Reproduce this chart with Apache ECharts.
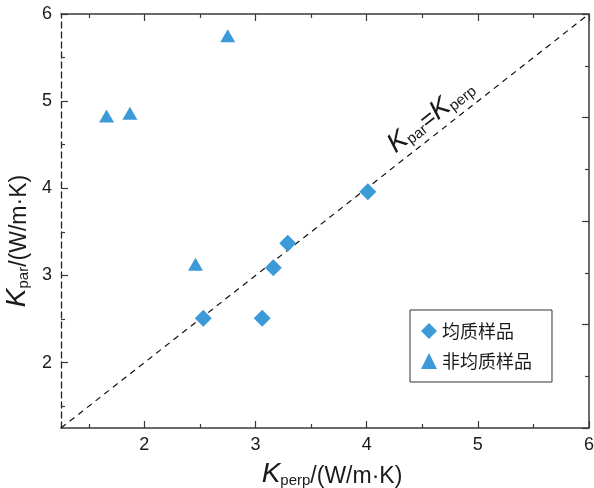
<!DOCTYPE html>
<html><head><meta charset="utf-8">
<script src="https://cdn.jsdelivr.net/npm/echarts@6/dist/echarts.min.js"></script>
<style>html,body{margin:0;padding:0;background:#fff}#c{width:594px;height:488px}</style>
</head><body><div id="c"></div>
<script>
// Data
const homoName = '均质样品';
const heteroName = '非均质样品';
const homoX = [2.53, 3.06, 3.16, 3.29, 4.01];
const homoY = [2.51, 2.51, 3.09, 3.37, 3.96];
const heteroX = [1.66, 1.87, 2.75, 2.46];
const heteroY = [4.83, 4.86, 5.75, 3.13];
const axisMin = 1.25, axisMax = 6;
const majorTicks = [2, 3, 4, 5, 6];
const minorTicks = [1.5, 2.5, 3.5, 4.5, 5.5];
const lineX = [1.25, 6];
const lineY = [1.25, 6];

const AX = '#3a3a3a';
const TXT = '#1a1a1a';
const COL = '#3d9ad8';
const FONT = 'Liberation Sans, Arial, Noto Sans CJK SC, sans-serif';

const richName = {
  k: {fontStyle: 'italic', fontSize: 28, fontFamily: FONT, color: TXT, lineHeight: 32, verticalAlign: 'bottom'},
  s: {fontSize: 15, fontFamily: FONT, color: TXT, lineHeight: 17, verticalAlign: 'bottom'},
  n: {fontSize: 23, fontFamily: FONT, color: TXT, lineHeight: 30, verticalAlign: 'bottom'}
};

function baseAxis(pos, opts) {
  return Object.assign({
    type: 'value', position: pos, min: axisMin, max: axisMax,
    splitLine: {show: false},
    axisLine: {show: true, onZero: false, lineStyle: {color: AX, width: 1.5}},
    axisTick: {show: true, inside: true, length: 7, customValues: majorTicks, lineStyle: {color: AX, width: 1.2}},
    axisLabel: {show: false},
  }, opts);
}
function minorAxis(pos) {
  return {
    type: 'value', position: pos, min: axisMin, max: axisMax,
    splitLine: {show: false},
    axisLine: {show: false, onZero: false},
    axisTick: {show: true, inside: true, length: 4, customValues: minorTicks, lineStyle: {color: AX, width: 1.2}},
    axisLabel: {show: false}
  };
}

const chart = echarts.init(document.getElementById('c'), null, {renderer: 'canvas'});
chart.setOption({
  animation: false,
  backgroundColor: '#fff',
  grid: {left: 61, right: 5, top: 14, bottom: 60, containLabel: false, outerBoundsMode: 'none'},
  xAxis: [
    baseAxis('bottom', {
      axisLabel: {show: true, customValues: majorTicks, margin: 8, fontSize: 18, color: TXT, fontFamily: FONT},
      name: '{k|K}{s|perp}{n|/(W/m·K)}', nameLocation: 'middle', nameGap: 28,
      nameTextStyle: {rich: richName, padding: [0, 0, 0, 14]}
    }),
    minorAxis('bottom'),
    baseAxis('top', {}),
    minorAxis('top')
  ],
  yAxis: [
    baseAxis('left', {
      axisLine: {show: true, onZero: false, lineStyle: {color: '#222', width: 1.3, type: [6, 4]}},
      axisLabel: {show: true, customValues: majorTicks, margin: 9, fontSize: 18, color: TXT, fontFamily: FONT},
      name: '{k|K}{s|par}{n|/(W/m·K)}', nameLocation: 'middle', nameGap: 26, nameRotate: 90,
      nameTextStyle: {rich: richName, padding: [0, 40, 0, 0]}
    }),
    minorAxis('left'),
    {
      type: 'value', position: 'right', min: 0, max: 8, interval: 2,
      splitLine: {show: false},
      axisLine: {show: true, onZero: false, lineStyle: {color: AX, width: 1.5}},
      axisTick: {show: true, inside: true, length: 7, lineStyle: {color: AX, width: 1.2}},
      minorTick: {show: true, splitNumber: 2, length: 4, lineStyle: {color: AX, width: 1.2}},
      axisLabel: {show: false}
    }
  ],
  legend: {
    orient: 'vertical', left: 410, top: 310,
    padding: [12, 20, 12, 11],
    borderColor: '#333', borderWidth: 1, borderRadius: 0,
    itemWidth: 16, itemHeight: 16, itemGap: 12,
    textStyle: {fontSize: 18, color: TXT, fontFamily: 'Noto Sans CJK SC, sans-serif'},
    data: [{name: homoName, icon: 'diamond'}, {name: heteroName, icon: 'triangle'}]
  },
  series: [
    {
      type: 'line', xAxisIndex: 0, yAxisIndex: 0, silent: true,
      data: lineX.map((x, i) => [x, lineY[i]]),
      symbol: 'none', lineStyle: {color: '#111', width: 1.2, type: [6, 5]}, z: 1
    },
    {
      name: homoName, type: 'scatter', xAxisIndex: 0, yAxisIndex: 0,
      symbol: 'diamond', symbolSize: 17,
      itemStyle: {color: COL, opacity: 1},
      data: homoX.map((x, i) => [x, homoY[i]]), z: 3
    },
    {
      name: heteroName, type: 'scatter', xAxisIndex: 0, yAxisIndex: 0,
      symbol: 'triangle', symbolSize: [15, 13],
      itemStyle: {color: COL, opacity: 1},
      data: heteroX.map((x, i) => [x, heteroY[i]]), z: 3
    }
  ]
});

// Rotated annotation along the y = x line
const p1 = chart.convertToPixel({xAxisIndex: 0, yAxisIndex: 0}, [lineX[0], lineY[0]]);
const p2 = chart.convertToPixel({xAxisIndex: 0, yAxisIndex: 0}, [lineX[1], lineY[1]]);
const ang = Math.atan2(p1[1] - p2[1], p2[0] - p1[0]);
const pc = chart.convertToPixel({xAxisIndex: 0, yAxisIndex: 0}, [4.57, 4.84]);
chart.setOption({
  graphic: [{
    type: 'text', x: pc[0], y: pc[1], rotation: ang, z: 10,
    style: {
      text: '{k|K}{s|par}{n|=}{k|K}{s|perp}',
      align: 'center', verticalAlign: 'middle',
      rich: {
        k: {fontStyle: 'italic', fontSize: 27, fontFamily: FONT, fill: TXT, lineHeight: 30, verticalAlign: 'bottom'},
        s: {fontSize: 15, fontFamily: FONT, fill: TXT, lineHeight: 17, verticalAlign: 'bottom'},
        n: {fontSize: 24, fontFamily: FONT, fill: TXT, lineHeight: 28, verticalAlign: 'bottom'}
      }
    }
  }]
});
</script>
</body></html>
